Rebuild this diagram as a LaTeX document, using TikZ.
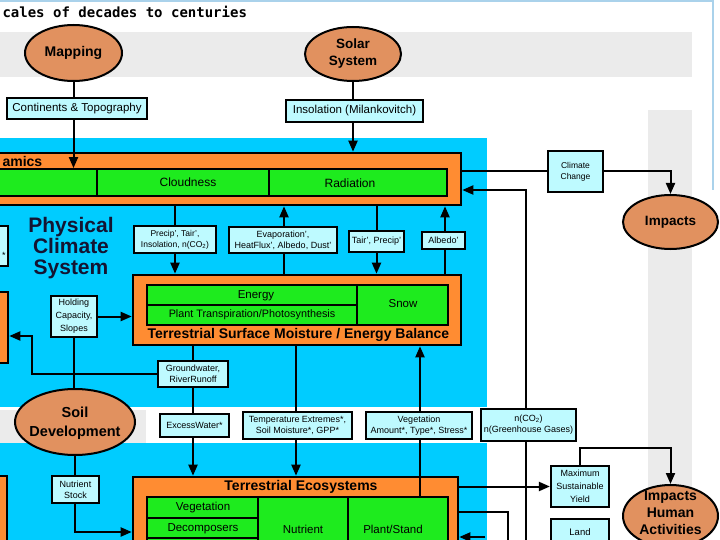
\documentclass[tikz,border=0pt]{standalone}
\usepackage{fontspec}
\setmainfont{Liberation Sans}
\newfontfamily\titlefont{DejaVu Sans Mono}
\usetikzlibrary{shapes.geometric,arrows.meta,calc}
\definecolor{cyanbg}{RGB}{0,204,255}
\definecolor{graybg}{RGB}{235,235,235}
\definecolor{orng}{RGB}{255,140,50}
\definecolor{grn}{RGB}{30,235,30}
\definecolor{boxc}{RGB}{190,250,255}
\definecolor{ovalc}{RGB}{225,145,95}
\definecolor{frame}{RGB}{170,210,235}
\definecolor{navy}{RGB}{20,20,50}
\newcommand{\fsz}[2]{\fontsize{#1}{#2}\selectfont}
\begin{document}
\begin{tikzpicture}[x=1pt,y=-1pt,
  conn/.style={draw=black, line width=2pt},
  arr/.style={conn, -{Triangle[length=11pt,width=9pt]}},
  cbox/.style={draw=black, line width=2.2pt, fill=boxc, inner sep=0pt, align=center, font=\fsz{9}{11}},
  obox/.style={draw=black, line width=2.6pt, fill=orng, inner sep=0pt},
  gbox/.style={draw=black, line width=1.8pt, fill=grn, inner sep=0pt},
  oval/.style={ellipse, draw=black, line width=2pt, fill=ovalc, inner sep=0pt},
  olab/.style={font=\bfseries\fsz{14}{17}, align=center},
  glab/.style={font=\fsz{11.5}{13}},
  divl/.style={draw=black, line width=1.5pt},
  ttl/.style={font=\bfseries\fsz{14}{16}}
]
\useasboundingbox (0,0) rectangle (720,540);
% backgrounds
\fill[white] (0,0) rectangle (720,540);
\fill[graybg] (0,32) rectangle (692,77);
\fill[graybg] (648,110) rectangle (692,540);
\fill[cyanbg] (0,138) rectangle (487,407);
\fill[cyanbg] (0,443) rectangle (487,540);
\fill[graybg] (0,410) rectangle (146,443);
\draw[frame, line width=1.2pt] (0,1) -- (713,1) -- (713,190);

\node[anchor=west, font=\titlefont\bfseries\fsz{14}{16}] (title) at (-1,12) {cales of decades to centuries};

% top ovals and boxes
\node[oval, minimum width=97, minimum height=56, label={[olab]center:Mapping}] (mapping) at (73.5,53) {};
\node[oval, minimum width=96, minimum height=54, label={[olab,font=\bfseries\fsz{13.5}{17}]center:Solar\\System}] (solar) at (353,54) {};
\node[cbox, font=\fsz{11.5}{13}, minimum width=140, minimum height=21] (cont) at (77,108.5) {Continents \& Topography};
\node[cbox, font=\fsz{11.5}{13}, minimum width=137, minimum height=22] (insol) at (354.5,111) {Insolation (Milankovitch)};

% atmosphere box
\node[obox, minimum width=475, minimum height=52] (atm) at (223.5,179) {};
\node[gbox, minimum width=461, minimum height=27] (greenA) at (216.5,182.5) {};
\draw[divl] (97,169) -- (97,196);
\draw[divl] (269,169) -- (269,196);
\node[font=\fsz{12}{14}] (cloud) at (188,182) {Cloudness};
\node[font=\fsz{12}{14}] (rad) at (350,183) {Radiation};
\node[ttl, anchor=west] (amics) at (-1,161.5) {amics};

% climate change and impacts
\node[cbox, font=\fsz{8.5}{11}, minimum width=55, minimum height=41] (cc) at (575.5,171.5) {Climate\\Change};
\node[oval, minimum width=95, minimum height=54, label={[olab,font=\bfseries\fsz{13.5}{17}]center:Impacts}] (impacts) at (670.5,222) {};

% physical climate system label
\node[font=\bfseries\fsz{21}{21}, align=center, text=navy] (pcs) at (71,248) {Physical\\Climate\\System};
\node[cbox, minimum width=18, minimum height=40] (lcut) at (-1,246) {};
\node[font=\fsz{9}{11}] (lstar) at (4,255) {*};
\node[obox, minimum width=18, minimum height=71] (lorange) at (-1,327.5) {};
\node[obox, minimum width=18, minimum height=90] (lorange2) at (-2,521) {};

% small boxes between atm and tsm
\node[cbox, font=\fsz{8.5}{11}, minimum width=82, minimum height=27] (precip) at (175,239.5) {Precip', Tair',\\Insolation, n(CO\textsubscript{2})};
\node[cbox, font=\fsz{9}{11}, minimum width=108, minimum height=26] (evap) at (283,240) {Evaporation',\\HeatFlux', Albedo, Dust'};
\node[cbox, minimum width=55, minimum height=21] (tair) at (376.5,241.5) {Tair', Precip'};
\node[cbox, minimum width=43, minimum height=17] (albedo) at (443.5,240.5) {Albedo'};

% terrestrial surface moisture box
\node[obox, minimum width=328, minimum height=70] (tsm) at (297,310) {};
\node[gbox, minimum width=301, minimum height=40] (tsmg) at (297.5,305) {};
\draw[divl] (357,285) -- (357,325);
\draw[divl] (147,305) -- (357,305);
\node[glab] (energy) at (256,295.5) {Energy};
\node[font=\fsz{10.8}{13}] (plant) at (252,315) {Plant Transpiration/Photosynthesis};
\node[glab] (snow) at (403,304) {Snow};
\node[ttl, anchor=west] (tsmlab) at (144,335) {Terrestrial Surface Moisture / Energy Balance};

\node[cbox, font=\fsz{9}{13}, minimum width=46, minimum height=41] (hold) at (74,316.5) {Holding\\Capacity,\\Slopes};
\node[cbox, minimum width=70, minimum height=26] (gw) at (193,374) {Groundwater,\\RiverRunoff};
\coordinate (gwk) at (32,336);

% soil row
\node[oval, minimum width=120, minimum height=66, label={[olab,font=\bfseries\fsz{14.5}{19}, yshift=-1pt]center:Soil\\Development}] (soil) at (75,422) {};
\node[cbox, minimum width=69, minimum height=23] (excess) at (194.5,425.5) {ExcessWater*};
\node[cbox, minimum width=109, minimum height=27] (temp) at (297.5,425.5) {Temperature Extremes*,\\Soil Moisture*, GPP*};
\node[cbox, minimum width=106, minimum height=27] (veg) at (419,425.5) {Vegetation\\Amount*, Type*, Stress*};
\node[cbox, minimum width=95, minimum height=32] (nco2) at (528.5,425) {n(CO\textsubscript{2})\\n(Greenhouse Gases)};

% terrestrial ecosystems
\node[obox, minimum width=325, minimum height=110] (te) at (295.5,532) {};
\node[gbox, minimum width=301, minimum height=103] (teg) at (297.5,548.5) {};
\draw[divl] (258,497) -- (258,600);
\draw[divl] (348,497) -- (348,600);
\draw[divl] (147,518) -- (258,518);
\draw[divl] (147,538) -- (258,538);
\node[ttl] (telab) at (301,487) {Terrestrial Ecosystems};
\node[glab] (vegc) at (203,508) {Vegetation};
\node[glab] (decomp) at (203,528.5) {Decomposers};
\node[glab] (nutrc) at (303,529) {Nutrient};
\node[glab] (plantst) at (393,529) {Plant/Stand};

\node[cbox, minimum width=47, minimum height=27] (nutr) at (75.5,489.5) {Nutrient\\Stock};
\node[cbox, font=\fsz{9}{13}, minimum width=58, minimum height=41] (msy) at (580,486.5) {Maximum\\Sustainable\\Yield};
\node[cbox, minimum width=58, minimum height=41] (land) at (580,539.5) {};
\node[font=\fsz{9.5}{11}] (landt) at (580,532) {Land};
\node[oval, minimum width=95, minimum height=62, label={[olab,font=\bfseries\fsz{14}{17}, yshift=3pt]center:Impacts\\Human\\Activities}] (iha) at (670.5,516) {};

% connectors
\draw[conn] (mapping.south) -- (mapping.south |- cont.north);
\draw[arr] (mapping.south |- cont.south) -- (mapping.south |- greenA.north);
\draw[conn] (solar.south) -- (solar.south |- insol.north);
\draw[arr] (solar.south |- insol.south) -- (solar.south |- atm.north);
\draw[conn] (atm.east |- cc.west) -- (cc.west);
\draw[arr] (cc.east) -| (impacts.north);
\draw[arr] ([xshift=-2.5pt]nco2.north) |- ($(atm.east)+(0,11)$);
\draw[conn] ([xshift=-2.5pt]nco2.south) -- ++(0,120);

\draw[conn] (atm.south -| precip.north) -- (precip.north);
\draw[arr] (precip.south) -- (precip.south |- tsm.north);
\draw[arr] ([xshift=1pt]evap.north) -- ([xshift=1pt]evap.north |- atm.south);
\draw[conn] ([xshift=1pt]evap.south |- tsm.north) -- ([xshift=1pt]evap.south);
\draw[conn] (tair.north |- atm.south) -- (tair.north);
\draw[arr] (tair.south) -- (tair.south |- tsm.north);
\draw[arr] ([xshift=1.5pt]albedo.north) -- ([xshift=1.5pt]albedo.north |- atm.south);
\draw[conn] ([xshift=1.5pt]albedo.south |- tsm.north) -- ([xshift=1.5pt]albedo.south);

\draw[arr] (hold.east) -- (hold.east -| tsm.west);
\draw[conn] (hold.south) -- (hold.south |- soil.north);
\draw[conn] (gw.north |- tsm.south) -- (gw.north);
\draw[conn] (gw.south) -- (gw.south |- excess.north);
\draw[arr] (gw.south |- excess.south) -- (gw.south |- te.north);
\draw[arr] (gw.west) -| (gwk) -- (gwk -| lorange.east);
\draw[conn] ([xshift=-1.5pt]temp.north |- tsm.south) -- ([xshift=-1.5pt]temp.north);
\draw[arr] ([xshift=-1.5pt]temp.south) -- ([xshift=-1.5pt]temp.south |- te.north);
\draw[arr] ([xshift=1pt]veg.north) -- ([xshift=1pt]veg.north |- tsm.south);
\draw[conn] ([xshift=1pt]veg.south) -- ([xshift=1pt]veg.south |- teg.north);

\draw[conn] (soil.south) -- (soil.south |- nutr.north);
\draw[arr] (nutr.south -| soil.south) |- (te.west);
\draw[arr] (te.east |- msy.west) -- (msy.west);
\draw[conn] ($(te.east)+(0,-20)$) -| ++(49,40);
\draw[arr] (msy.north) -- ++(0,-17) -| (iha.north);
\draw[arr] ($(te.east)+(26,5)$) -- ($(te.east)+(0,5)$);
\end{tikzpicture}
\end{document}
